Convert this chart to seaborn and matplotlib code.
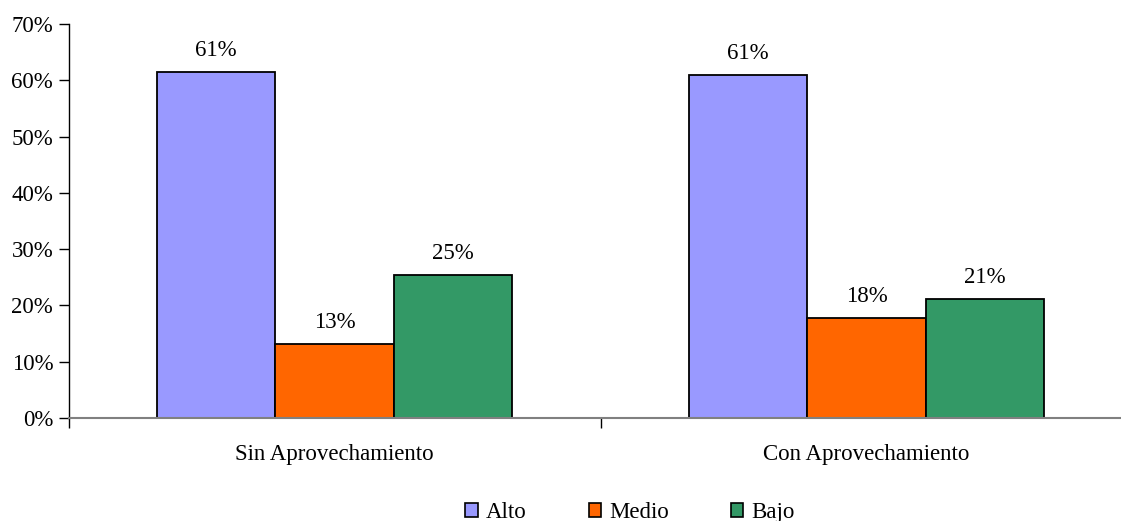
import matplotlib
matplotlib.use("Agg")
import matplotlib.pyplot as plt
import seaborn as sns
import pandas as pd
from matplotlib.patches import Patch

# Data
categories = ["Sin Aprovechamiento", "Con Aprovechamiento"]
levels = ["Alto", "Medio", "Bajo"]
alto = [61.4, 61.0]
medio = [13.1, 17.8]
bajo = [25.4, 21.2]
colors = ["#9999FF", "#FF6600", "#339966"]

df = pd.DataFrame({
    "categoria": categories * 3,
    "nivel": [l for l in levels for _ in categories],
    "valor": alto + medio + bajo,
})

sns.set_theme(style="white")
plt.rcParams["font.family"] = ["Liberation Serif", "DejaVu Serif"]
plt.rcParams["text.color"] = "black"
plt.rcParams["xtick.color"] = "black"
plt.rcParams["ytick.color"] = "black"

FS = 16.5
W, H = 1121, 521
fig = plt.figure(figsize=(W / 100, H / 100), dpi=100)
ax = fig.add_axes([68.5 / W, (H - 418) / H, 1064 / W, (418 - 24) / H])

sns.barplot(data=df, x="categoria", y="valor", hue="nivel", order=categories,
            hue_order=levels, palette=colors, width=2 / 3, gap=0,
            edgecolor="black", linewidth=1.3, saturation=1, ax=ax, legend=False)

for cont in ax.containers:
    ax.bar_label(cont, fmt="%.0f%%", padding=8, fontsize=FS, color="black")

ax.set_xlim(-0.5, 1.5)
ax.set_ylim(0, 70)
ax.set_yticks(range(0, 71, 10))
ax.set_yticklabels([f"{v}%" for v in range(0, 71, 10)], fontsize=FS)
ax.set_xlabel("")
ax.set_ylabel("")

for s in ["top", "right"]:
    ax.spines[s].set_visible(False)
ax.spines["left"].set_color("black")
ax.spines["left"].set_linewidth(1.0)
ax.spines["bottom"].set_color("#808080")
ax.spines["bottom"].set_linewidth(1.5)

ax.tick_params(axis="y", direction="out", length=7, width=1, color="black",
               left=True, pad=4)
ax.tick_params(axis="x", which="major", length=0, pad=19, labelsize=FS)
ax.set_xticks([-0.5, 0.5, 1.5], minor=True)
ax.tick_params(axis="x", which="minor", direction="out", length=7, width=1,
               color="black", bottom=True)
ax.grid(False)

handles = [Patch(facecolor=c, edgecolor="black", linewidth=1.2) for c in colors]
fig.legend(handles, levels, loc="lower center", bbox_to_anchor=(0.562, -0.043),
           ncol=3, frameon=False, fontsize=FS, handlelength=0.55,
           handleheight=0.55, handletextpad=0.35, columnspacing=2.7)

fig.savefig("out.png", dpi=100)
